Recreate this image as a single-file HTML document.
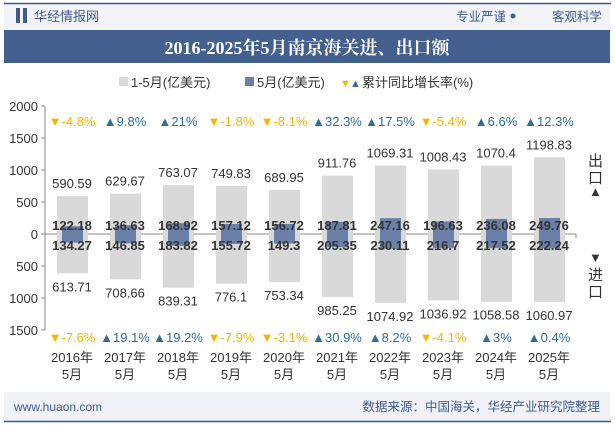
<!DOCTYPE html>
<html><head><meta charset="utf-8"><style>
body{margin:0;width:615px;height:427px;overflow:hidden;background:#fff;font-family:"Liberation Sans","Noto Sans CJK SC",sans-serif;}
svg text{font-family:"Liberation Sans","Noto Sans CJK SC",sans-serif;}
</style></head><body>
<svg width="615" height="427">
<rect x="0" y="0" width="615" height="427" fill="#fff"/>
<rect x="4" y="4" width="606" height="26" fill="#f3f4f8"/>
<line x1="4" y1="3.5" x2="611" y2="3.5" stroke="#3f5a8c" stroke-width="1.5"/>
<rect x="16" y="8" width="4" height="15" fill="#3f5a8c"/><rect x="23" y="8" width="4" height="15" fill="#3f5a8c"/>
<text x="34" y="21" font-size="13" fill="#3f5a8c">华经情报网</text>
<text x="506" y="21" font-size="12.5" fill="#3f5a8c" text-anchor="end">专业严谨</text>
<circle cx="513" cy="16" r="2.5" fill="#3f5a8c"/>
<text x="602" y="21" font-size="12.5" fill="#3f5a8c" text-anchor="end">客观科学</text>
<rect x="4" y="30" width="606" height="33" fill="#44608f"/>
<text x="307" y="54" font-size="18" font-weight="bold" fill="#fff" text-anchor="middle" style="font-family:'Liberation Serif','Noto Serif CJK SC',serif">2016-2025年5月南京海关进、出口额</text>
<g font-size="13" fill="#333">
<rect x="119" y="77" width="9" height="9" fill="#d9d9d9"/><text x="131" y="87">1-5月(亿美元)</text>
<rect x="245" y="77" width="9" height="9" fill="#6b80a8"/><text x="257" y="87">5月(亿美元)</text>
<text x="340" y="87" fill="#f7b500" font-size="11">▼</text><text x="350" y="87" fill="#2f6d9a" font-size="11">▲</text><text x="362" y="87">累计同比增长率(%)</text>
</g>
<g id="axes"></g><g id="marks"></g>
<g font-size="15" fill="#333">
<text x="588" y="166">出</text><text x="588" y="183">口</text><text x="589" y="196" font-size="13">▲</text>
<text x="589" y="262" font-size="13">▼</text><text x="588" y="280">进</text><text x="588" y="297">口</text>
</g>
<rect x="4" y="392" width="606" height="29" fill="#f0f2f7"/>
<line x1="4" y1="421.5" x2="611" y2="421.5" stroke="#3f5a8c" stroke-width="1.5"/>
<text x="14" y="411" font-size="12" fill="#3f5a8c">www.huaon.com</text>
<text x="600" y="411" font-size="12.5" fill="#3f5a8c" text-anchor="end">数据来源：中国海关，华经产业研究院整理</text>
</svg>
<script>
const years=["2016年","2017年","2018年","2019年","2020年","2021年","2022年","2023年","2024年","2025年"];
const exportYtd=[590.59,629.67,763.07,749.83,689.95,911.76,1069.31,1008.43,1070.4,1198.83];
const exportMay=[122.18,136.63,168.92,157.12,156.72,187.81,247.16,196.63,236.08,249.76];
const importYtd=[613.71,708.66,839.31,776.1,753.34,985.25,1074.92,1036.92,1058.58,1060.97];
const importMay=[134.27,146.85,183.82,155.72,149.3,205.35,230.11,216.7,217.52,222.24];
const exportGrowth=[-4.8,9.8,21,-1.8,-8.1,32.3,17.5,-5.4,6.6,12.3];
const importGrowth=[-7.6,19.1,19.2,-7.9,-3.1,30.9,8.2,-4.1,3,0.4];
const yTicks=[2000,1500,1000,500,0,-500,-1000,-1500];
const NS="http://www.w3.org/2000/svg";
const y0=234,k=128/2000;
const y=v=>y0-v*k;
const x=i=>72+i*53;
function mk(tag,attrs,parent,txt){const e=document.createElementNS(NS,tag);for(const a in attrs)e.setAttribute(a,attrs[a]);if(txt!==undefined)e.textContent=txt;parent.appendChild(e);return e;}
const ax=document.getElementById('axes'),mg=document.getElementById('marks');
let yl=mk('line',{x1:45,y1:y(2000),x2:45,y2:y(-1500),stroke:'#888'},ax);


yTicks.forEach(t=>{
 mk('line',{x1:41,y1:y(t),x2:45,y2:y(t),stroke:'#888'},ax);
 const e=mk('text',{x:38,y:y(t)+5,'font-size':13,'text-anchor':'end',fill:'#333'},ax,String(Math.abs(t)));
 
 
});
years.forEach((yr,i)=>{
 const cx=x(i);
 let r=mk('rect',{x:cx-15,y:y(exportYtd[i]),width:31,height:(exportYtd[i]+importYtd[i])*k,fill:'#d9d9d9'},mg);
 
 
 r=mk('rect',{x:cx-10,y:y(exportMay[i]),width:21,height:(exportMay[i]+importMay[i])*k,fill:'#6b80a8'},mg);
 
 
 mk('text',{x:cx,y:y(exportYtd[i])-8,'font-size':13,'text-anchor':'middle',fill:'#333'},mg,String(exportYtd[i]));
 mk('text',{x:cx,y:y(-importYtd[i])+18,'font-size':13,'text-anchor':'middle',fill:'#333'},mg,String(importYtd[i]));
 mk('text',{x:cx,y:y0-4,'font-size':13,'font-weight':'bold','text-anchor':'middle',fill:'#333'},mg,String(exportMay[i]));
 mk('text',{x:cx,y:y0+16,'font-size':13,'font-weight':'bold','text-anchor':'middle',fill:'#333'},mg,String(importMay[i]));
 const g1=exportGrowth[i],g2=importGrowth[i];
 mk('text',{x:cx,y:126,'font-size':13,'text-anchor':'middle',fill:g1<0?'#f7b500':'#2f6d9a'},mg,(g1<0?'▼':'▲')+g1+'%');
 mk('text',{x:cx,y:342,'font-size':13,'text-anchor':'middle',fill:g2<0?'#f7b500':'#2f6d9a'},mg,(g2<0?'▼':'▲')+g2+'%');
 let t=mk('text',{x:cx,y:362,'font-size':13,'text-anchor':'middle',fill:'#333'},mg,yr);
 
 
 mk('text',{x:cx,y:379,'font-size':13,'text-anchor':'middle',fill:'#333'},mg,'5月');
});
let zl=mk('line',{x1:45,y1:y0,x2:576,y2:y0,stroke:'#888'},ax);


mk('line',{x1:576,y1:y0,x2:576,y2:y0+4,stroke:'#888'},ax);
</script>
</body></html>
